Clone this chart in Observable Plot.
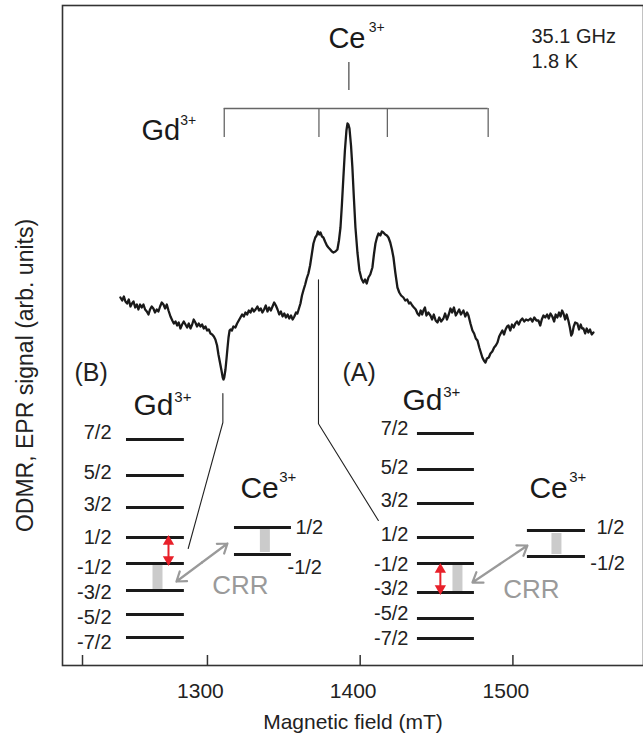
<!DOCTYPE html>
<html>
<head>
<meta charset="utf-8">
<script src="https://cdn.jsdelivr.net/npm/d3@7"></script>
<script src="https://cdn.jsdelivr.net/npm/@observablehq/plot@0.6"></script>
<style>
  html, body { margin: 0; padding: 0; background: #fff; }
  #chart svg { display: block; }
</style>
</head>
<body>
<div id="chart"></div>
<script>
// ---------- Spectrum (Magnetic field in mT, signal in arb. units) ----------
const fieldMT = [1243.0,1244.2,1245.3,1246.3,1247.4,1248.5,1249.6,1250.6,1251.6,1252.7,1253.8,1254.8,1255.9,1257.0,1258.1,1259.2,1260.3,1261.4,1262.4,1263.5,1264.6,1265.7,1266.8,1267.9,1269.0,1270.1,1271.2,1272.3,1273.4,1274.5,1275.8,1277.0,1278.0,1279.1,1280.2,1281.2,1282.3,1283.4,1284.5,1285.6,1286.7,1287.8,1288.9,1290.0,1291.0,1292.1,1293.2,1294.3,1295.4,1296.5,1297.6,1298.7,1299.8,1300.9,1302.0,1303.1,1304.2,1305.2,1306.3,1307.2,1308.2,1309.2,1310.0,1310.5,1311.0,1311.8,1312.5,1313.1,1313.8,1314.5,1315.1,1316.0,1317.0,1318.3,1319.4,1320.5,1321.6,1322.7,1323.8,1324.9,1326.0,1327.1,1328.2,1329.3,1330.4,1331.5,1332.7,1333.8,1334.9,1336.0,1337.1,1338.2,1339.3,1340.4,1341.5,1342.6,1343.7,1344.8,1345.9,1347.0,1348.1,1349.2,1350.3,1351.4,1352.5,1353.6,1354.7,1355.8,1356.9,1358.0,1358.9,1359.9,1360.9,1361.9,1362.8,1364.0,1365.0,1366.1,1367.2,1368.3,1369.4,1370.6,1371.5,1372.3,1373.2,1374.0,1375.0,1375.9,1377.0,1378.2,1379.2,1380.4,1381.5,1382.5,1383.8,1385.1,1386.1,1387.1,1388.0,1389.0,1390.0,1391.0,1391.7,1392.3,1393.0,1394.0,1394.9,1395.9,1396.9,1398.2,1399.5,1400.8,1402.1,1403.2,1404.3,1405.4,1406.6,1408.0,1409.0,1410.0,1411.0,1412.0,1413.2,1414.2,1415.2,1416.4,1417.5,1418.5,1419.7,1420.8,1421.8,1423.0,1424.4,1425.6,1426.8,1428.3,1429.5,1430.8,1432.0,1432.9,1434.1,1435.2,1436.4,1437.5,1438.6,1439.6,1440.6,1441.4,1442.4,1443.4,1444.6,1446.0,1447.1,1448.2,1449.4,1450.6,1451.8,1453.0,1454.5,1455.6,1456.8,1458.0,1459.1,1460.2,1461.4,1462.6,1463.7,1464.8,1466.0,1467.6,1468.8,1470.0,1470.9,1472.2,1473.5,1474.6,1475.7,1476.8,1478.0,1479.0,1480.0,1481.0,1482.0,1483.0,1484.2,1485.3,1486.5,1487.7,1488.8,1489.9,1491.0,1492.0,1493.1,1494.2,1495.2,1496.2,1497.1,1498.3,1499.4,1500.5,1501.6,1502.7,1503.8,1505.0,1506.2,1507.4,1508.6,1510.0,1511.5,1512.8,1514.0,1515.4,1516.7,1517.9,1518.9,1520.0,1521.2,1522.4,1523.5,1524.6,1525.8,1527.0,1528.0,1529.1,1530.2,1531.2,1532.2,1533.1,1534.2,1535.2,1536.3,1537.3,1538.2,1538.9,1539.8,1540.8,1542.2,1543.3,1544.4,1545.3,1546.2,1547.3,1548.3,1549.4,1550.5,1551.6,1552.7];
const signal = [0.53,0.50,0.54,0.49,0.47,0.51,0.44,0.47,0.49,0.43,0.46,0.41,0.46,0.43,0.46,0.41,0.39,0.36,0.41,0.44,0.42,0.38,0.41,0.39,0.44,0.48,0.46,0.42,0.46,0.40,0.34,0.30,0.27,0.29,0.25,0.28,0.22,0.26,0.29,0.26,0.23,0.27,0.22,0.26,0.31,0.28,0.24,0.27,0.24,0.26,0.22,0.24,0.20,0.21,0.17,0.16,0.14,0.11,0.05,-0.04,-0.12,-0.20,-0.27,-0.29,-0.27,-0.19,-0.08,0.02,0.13,0.20,0.21,0.20,0.24,0.23,0.27,0.30,0.33,0.36,0.34,0.38,0.36,0.40,0.38,0.42,0.39,0.41,0.44,0.40,0.42,0.38,0.41,0.45,0.39,0.43,0.40,0.44,0.48,0.45,0.41,0.36,0.39,0.34,0.37,0.33,0.36,0.32,0.35,0.31,0.34,0.38,0.37,0.42,0.47,0.55,0.60,0.66,0.72,0.77,0.85,0.96,1.07,1.13,1.15,1.19,1.16,1.18,1.14,1.13,1.09,1.05,1.03,1.01,0.99,0.98,0.99,1.01,1.10,1.23,1.45,1.73,2.00,2.20,2.27,2.26,2.22,2.05,1.83,1.52,1.23,0.98,0.80,0.72,0.68,0.71,0.67,0.73,0.76,0.83,0.96,1.07,1.13,1.17,1.15,1.19,1.18,1.16,1.15,1.13,1.08,1.01,0.93,0.78,0.63,0.58,0.55,0.53,0.50,0.51,0.47,0.48,0.45,0.43,0.41,0.37,0.35,0.40,0.36,0.40,0.43,0.35,0.38,0.35,0.31,0.36,0.30,0.28,0.33,0.29,0.32,0.37,0.31,0.36,0.42,0.38,0.43,0.35,0.38,0.41,0.36,0.40,0.34,0.38,0.35,0.27,0.20,0.17,0.12,0.10,0.03,-0.02,-0.07,-0.10,-0.12,-0.08,-0.07,-0.03,-0.01,0.03,0.05,0.08,0.14,0.17,0.20,0.16,0.21,0.24,0.25,0.20,0.26,0.23,0.27,0.29,0.26,0.30,0.32,0.29,0.31,0.30,0.32,0.29,0.33,0.30,0.30,0.25,0.31,0.35,0.33,0.36,0.32,0.37,0.34,0.29,0.36,0.33,0.38,0.34,0.40,0.37,0.31,0.36,0.30,0.23,0.15,0.17,0.24,0.28,0.27,0.21,0.26,0.22,0.22,0.17,0.22,0.18,0.21,0.16,0.18];

// ---------- Axes ----------
const xDomain = [1205.1, 1585.5];
const yDomain = [-3.15, 3.45];
const tickValues = [1218.2, 1300, 1400, 1500];
const tickLabels = [1300, 1400, 1500];
const xTitle = "Magnetic field (mT)";
const yTitle = "ODMR, EPR signal (arb. units)";
const yTitlePos = [1180.9, -0.25];

// ---------- Line assignments above the spectrum ----------
const gdLines = [1311.0, 1373.0, 1417.8, 1483.8];
const gdBracketY = 2.42, gdBracketTickY = 2.13;
const ceLine = 1392.6, ceLineTop = 2.88, ceLineBottom = 2.60;

// ---------- Energy-level diagrams ----------
const gdSpins = ["7/2","5/2","3/2","1/2","-1/2","-3/2","-5/2","-7/2"];
const gdLevelsB = [-0.89,-1.25,-1.57,-1.87,-2.13,-2.40,-2.64,-2.87];
const gdLabelYB = [-0.82,-1.22,-1.54,-1.87,-2.17,-2.42,-2.67,-2.92];
const gdLevelsA = [-0.83,-1.19,-1.53,-1.87,-2.13,-2.42,-2.68,-2.88];
const gdLabelYA = [-0.78,-1.17,-1.50,-1.84,-2.14,-2.38,-2.63,-2.88];
const gdSpanB = [1247.0, 1284.9], gdLabelXB = 1237.2;
const gdSpanA = [1437.5, 1474.8], gdLabelXA = 1431.6;

const ceSpins = ["1/2","-1/2"];
const ceLevelsB = [-1.77,-2.04], ceSpanB = [1317.7, 1355.0];
const ceLabelXB = [1357.6, 1352.4], ceLabelYB = [-1.77, -2.17];
const ceLevelsA = [-1.80,-2.06], ceSpanA = [1509.5, 1547.5];
const ceLabelXA = [1554.7, 1550.7], ceLabelYA = [-1.77, -2.13];

// grey population bars [x, yTop, yBottom]
const greyBars = [[1267.3,-2.13,-2.40],[1337.6,-1.79,-2.02],[1463.7,-2.15,-2.42],[1528.5,-1.83,-2.04]];
// red double arrows [x, yTop, yBottom]
const redArrows = [[1274.5,-1.87,-2.13],[1452.5,-2.15,-2.42]];
// grey CRR double arrows [x1,y1,x2,y2]
const crrArrows = [[1279.7,-2.31,1313.1,-1.93],[1473.5,-2.32,1509.5,-1.95]];
const crrLabels = [[1321.6,-2.35],[1512.1,-2.39]];
// connector polylines from spectrum to diagrams
const connB = [[1310.1,-0.43],[1310.1,-0.72],[1287.4,-1.98]];
const connA = [[1372.7,0.707],[1372.7,-0.733],[1411.9,-1.70]];

// ---------- Text labels (base + superscript) ----------
const ionBase = [
  {t:"Ce", x:1379.2, y:3.115, s:29},
  {t:"Gd", x:1256.8, y:2.20, s:29},
  {t:"Gd", x:1251.6, y:-0.55, s:30},
  {t:"Gd", x:1427.7, y:-0.50, s:30},
  {t:"Ce", x:1321.6, y:-1.375, s:30},
  {t:"Ce", x:1510.8, y:-1.375, s:30}
];
const ionSup = [
  {t:"3+", x:1405.6, y:3.23, s:14},
  {t:"3+", x:1282.2, y:2.30, s:14},
  {t:"3+", x:1278.3, y:-0.47, s:15},
  {t:"3+", x:1454.4, y:-0.42, s:15},
  {t:"3+", x:1347.0, y:-1.27, s:15},
  {t:"3+", x:1536.9, y:-1.27, s:15}
];
const panelLabels = [{t:"(B)", x:1212.9, y:-0.22},{t:"(A)", x:1388.4, y:-0.22}];
const conditions = [{t:"35.1 GHz", x:1512.1, y:3.135},{t:"1.8 K", x:1512.1, y:2.89}];

// ---------- Build ----------
const spectrum = fieldMT.map((f, i) => ({f, s: signal[i]}));
const levelRows = (levels, span) => levels.map(y => ({y, x1: span[0], x2: span[1]}));
const gdLevelRows = [...levelRows(gdLevelsB, gdSpanB), ...levelRows(gdLevelsA, gdSpanA)];
const ceLevelRows = [...levelRows(ceLevelsB, ceSpanB), ...levelRows(ceLevelsA, ceSpanA)];
const gdLabelRows = [
  ...gdSpins.map((t, i) => ({t, x: gdLabelXB, y: gdLabelYB[i]})),
  ...gdSpins.map((t, i) => ({t, x: gdLabelXA, y: gdLabelYA[i]}))
];
const ceLabelRows = [
  ...ceSpins.map((t, i) => ({t, x: ceLabelXB[i], y: ceLabelYB[i]})),
  ...ceSpins.map((t, i) => ({t, x: ceLabelXA[i], y: ceLabelYA[i]}))
];
const connRows = [...connB.map(p => ({x: p[0], y: p[1], z: "B"})), ...connA.map(p => ({x: p[0], y: p[1], z: "A"}))];
const crrHalf = crrArrows.flatMap(a => {
  const mx = (a[0] + a[2]) / 2, my = (a[1] + a[3]) / 2;
  return [{x1: mx, y1: my, x2: a[0], y2: a[1]}, {x1: mx, y1: my, x2: a[2], y2: a[3]}];
});
const FONT = "'Liberation Sans', Arial, Helvetica, sans-serif";
const RED = "#e8202a";

const chart = Plot.plot({
  width: 643,
  height: 737,
  marginLeft: 62,
  marginRight: 0,
  marginTop: 5,
  marginBottom: 72,
  style: {fontFamily: FONT, background: "#fff", color: "#222"},
  x: {domain: xDomain, axis: null},
  y: {domain: yDomain, axis: null},
  marks: [
    Plot.frame({stroke: "#333", strokeWidth: 1.6}),
    Plot.tickX(tickValues, {x: d => d, insetTop: 650, stroke: "#333", strokeWidth: 1.5}),
    Plot.text(tickLabels, {x: d => d, text: d => String(d), frameAnchor: "bottom", lineAnchor: "middle", textAnchor: "middle", dy: 26, dx: -7, fontSize: 21, fill: "#222"}),
    Plot.text([xTitle], {frameAnchor: "bottom", lineAnchor: "middle", textAnchor: "middle", dy: 57, fontSize: 21, fill: "#222"}),
    Plot.text([yTitle], {x: () => yTitlePos[0], y: () => yTitlePos[1], rotate: -90, textAnchor: "middle", lineAnchor: "middle", fontSize: 23, fill: "#222"}),

    // line assignments
    Plot.ruleY([gdBracketY], {x1: gdLines[0], x2: gdLines[gdLines.length - 1], stroke: "#666", strokeWidth: 1.3}),
    Plot.ruleX(gdLines, {x: d => d, y1: gdBracketY, y2: gdBracketTickY, stroke: "#666", strokeWidth: 1.3}),
    Plot.ruleX([ceLine], {x: d => d, y1: ceLineTop, y2: ceLineBottom, stroke: "#444", strokeWidth: 1.2}),

    // connectors
    Plot.line(connRows, {x: "x", y: "y", z: "z", stroke: "#222", strokeWidth: 1.1}),

    // grey bars
    Plot.ruleX(greyBars, {x: d => d[0], y1: d => d[1], y2: d => d[2], stroke: "#cbcbcb", strokeWidth: 10}),

    // levels
    Plot.ruleY(gdLevelRows, {y: "y", x1: "x1", x2: "x2", stroke: "#1a1a1a", strokeWidth: 3}),
    Plot.ruleY(ceLevelRows, {y: "y", x1: "x1", x2: "x2", stroke: "#1a1a1a", strokeWidth: 3}),
    Plot.text(gdLabelRows, {x: "x", y: "y", text: "t", textAnchor: "end", fontSize: 20, fill: "#222"}),
    Plot.text(ceLabelRows, {x: "x", y: "y", text: "t", textAnchor: "start", fontSize: 20, fill: "#222"}),

    // red double arrows
    Plot.ruleX(redArrows, {x: d => d[0], y1: d => d[1], y2: d => d[2], stroke: RED, strokeWidth: 2, insetTop: 5, insetBottom: 5}),
    Plot.dot(redArrows, {x: d => d[0], y: d => d[1], symbol: "triangle", r: 4.2, fill: RED, dy: 4}),
    Plot.dot(redArrows, {x: d => d[0], y: d => d[2], symbol: "triangle", r: 4.2, fill: RED, rotate: 180, dy: -4}),

    // CRR arrows
    Plot.arrow(crrHalf, {x1: "x1", y1: "y1", x2: "x2", y2: "y2", stroke: "#9a9a9a", strokeWidth: 2.2, headLength: 10, headAngle: 70}),
    Plot.text(crrLabels, {x: d => d[0], y: d => d[1], text: () => "CRR", fontSize: 26, fill: "#9a9a9a"}),

    // spectrum
    Plot.line(spectrum, {x: "f", y: "s", stroke: "#1a1a1a", strokeWidth: 2.3, strokeLinejoin: "round"}),

    // labels
    Plot.text(ionBase, {x: "x", y: "y", text: "t", textAnchor: "start", fontSize: d => d.s, fill: "#1a1a1a"}),
    Plot.text(ionSup, {x: "x", y: "y", text: "t", textAnchor: "start", fontSize: d => d.s, fill: "#1a1a1a"}),
    Plot.text(panelLabels, {x: "x", y: "y", text: "t", textAnchor: "start", fontSize: 25, fill: "#222"}),
    Plot.text(conditions, {x: "x", y: "y", text: "t", textAnchor: "start", fontSize: 20, fill: "#222"})
  ]
});
document.getElementById("chart").appendChild(chart);
</script>
</body>
</html>
